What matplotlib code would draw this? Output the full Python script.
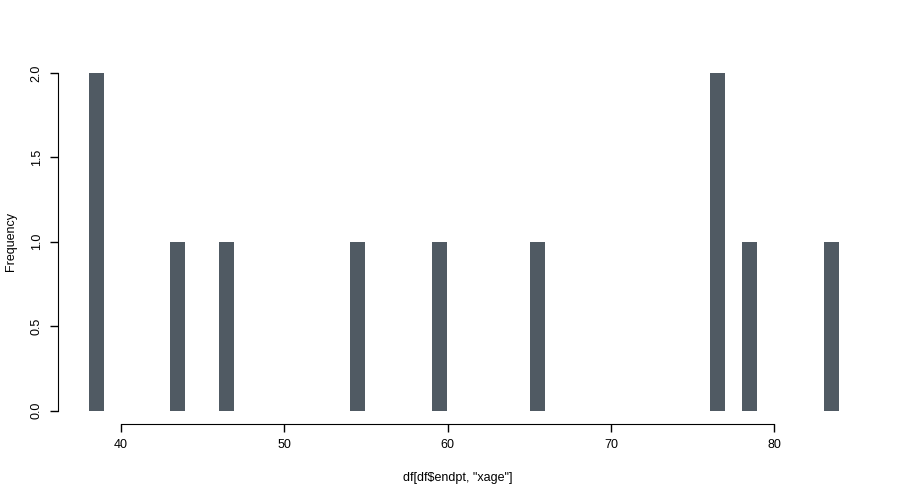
import matplotlib
matplotlib.use("Agg")
import matplotlib.pyplot as plt

# ages (xage) of the selected rows
xage = [38.5, 38.5, 43.5, 46.5, 54.5, 59.5, 65.5, 76.5, 76.5, 78.5, 83.5]
bins = list(range(38, 85))
xticks = [40, 50, 60, 70, 80]
yticks = [0.0, 0.5, 1.0, 1.5, 2.0]

plt.rcParams['font.family'] = ['Liberation Sans', 'DejaVu Sans']

fig = plt.figure(figsize=(9, 5), dpi=100)
ax = fig.add_axes([0.0644, 0.152, 0.902, 0.729])

ax.hist(xage, bins=bins, rwidth=0.92, color="#505a63")

ax.set_xlim(36.16, 85.84)
ax.set_ylim(-0.08, 2.08)

for s in ["top", "right"]:
  ax.spines[s].set_visible(False)
ax.spines["left"].set_bounds(0, 2)
ax.spines["bottom"].set_bounds(40, 80)

ax.set_xticks(xticks)
ax.set_xticklabels([str(t) for t in xticks])
ax.set_yticks(yticks)
ax.set_yticklabels([f"{t:.1f}" for t in yticks], rotation=90, va="center")
ax.tick_params(labelsize=9, length=6, width=1, pad=5)

ax.set_xlabel('df[df$endpt, "xage"]', fontsize=9)
ax.set_ylabel("Frequency", fontsize=9)
ax.xaxis.set_label_coords(0.492, -0.132)
ax.yaxis.set_label_coords(-0.050, 0.5)

fig.savefig("out.png", dpi=100)
